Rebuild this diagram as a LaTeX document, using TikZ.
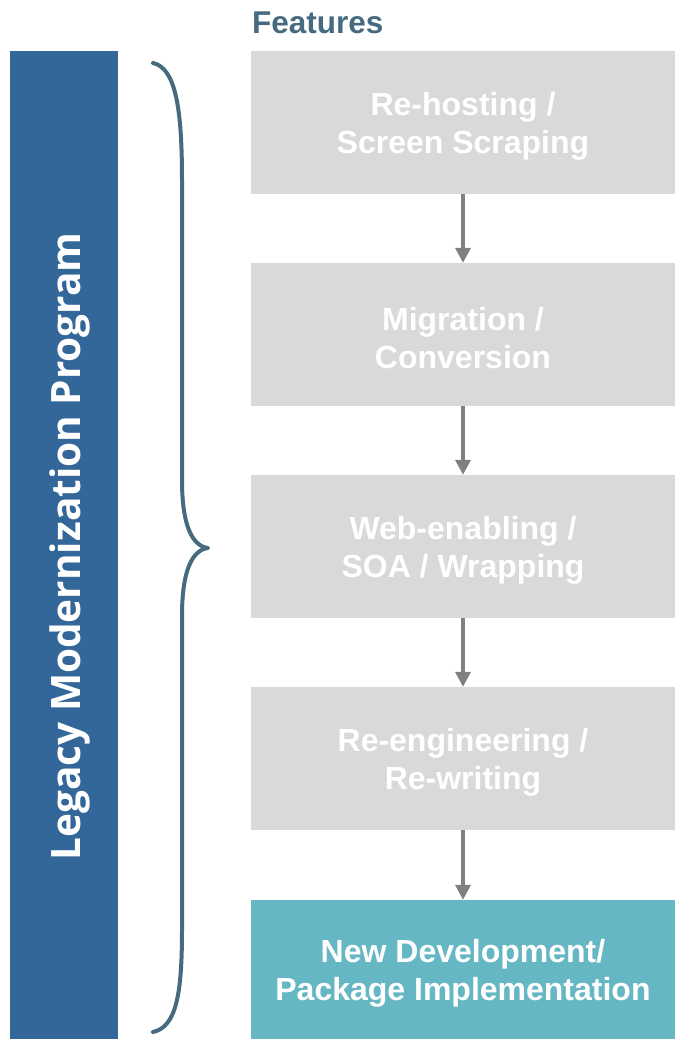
\documentclass[tikz,border=0pt]{standalone}
\usepackage{fontspec}
\setmainfont{Liberation Sans}
\newfontfamily\barfont{Open Sans}
\usetikzlibrary{arrows.meta}
\definecolor{barblue}{HTML}{336699}
\definecolor{slate}{HTML}{466A80}
\definecolor{boxgray}{HTML}{D9D9D9}
\definecolor{teal}{HTML}{66B7C4}
\definecolor{arrowgray}{HTML}{808080}
\tikzset{
  featbox/.style={fill=boxgray, draw=none, minimum width=424pt, minimum height=143pt,
    inner sep=0pt},
  lastbox/.style={featbox, fill=teal, minimum height=139pt},
  boxtext/.style={inner sep=0pt, align=center, text=white,
    font=\fontsize{32}{38}\selectfont\bfseries},
  flowarrow/.style={draw=arrowgray, line width=3.5pt, -{Triangle[width=15pt,length=15pt]}},
  bracepath/.style={draw=slate, line width=4pt, line cap=round, line join=round},
}
\begin{document}
\begin{tikzpicture}[x=1pt,y=-1pt]
\useasboundingbox (0,0) rectangle (680,1039);
% left bar
\node[fill=barblue, minimum width=108pt, minimum height=988pt, inner sep=0pt, anchor=north west] (bar) at (10,51) {};
\node[rotate=90, anchor=base, text=white, inner sep=0pt] (bartext) at (80,546.5)
  {\resizebox{628pt}{!}{\barfont\bfseries\fontsize{42}{50}\selectfont Legacy Modernization Program}};
% brace
\draw[bracepath] (153,63) .. controls (176,68) and (182,110) .. (182,180)
  -- (182,480) .. controls (182,525) and (192,546) .. (208,548)
  .. controls (192,550) and (182,571) .. (182,616)
  -- (182,930) .. controls (182,995) and (176,1027) .. (153,1032);
% title
\node[anchor=base west, inner sep=0pt, text=slate, font=\fontsize{31.5}{36}\selectfont\bfseries] (title) at (252,33) {Features};
% boxes
\node[featbox] (b1) at (463,122.5) {};
\node[featbox] (b2) at (463,334.5) {};
\node[featbox] (b3) at (463,546.5) {};
\node[featbox] (b4) at (463,758.5) {};
\node[lastbox] (b5) at (463,969.5) {};
\node[boxtext] (t1) at ([yshift=-4pt]b1.center) {Re-hosting /\\Screen Scraping};
\node[boxtext] (t2) at ([yshift=-4pt]b2.center) {Migration /\\Conversion};
\node[boxtext] (t3) at ([yshift=-4pt]b3.center) {Web-enabling /\\SOA / Wrapping};
\node[boxtext] (t4) at ([yshift=-4pt]b4.center) {Re-engineering /\\Re-writing};
\node[boxtext] (t5) at ([yshift=-4pt]b5.center) {New Development/\\Package Implementation};
% arrows
\draw[flowarrow] (b1.south) -- (b2.north);
\draw[flowarrow] (b2.south) -- (b3.north);
\draw[flowarrow] (b3.south) -- (b4.north);
\draw[flowarrow] (b4.south) -- (b5.north);
\end{tikzpicture}
\end{document}
